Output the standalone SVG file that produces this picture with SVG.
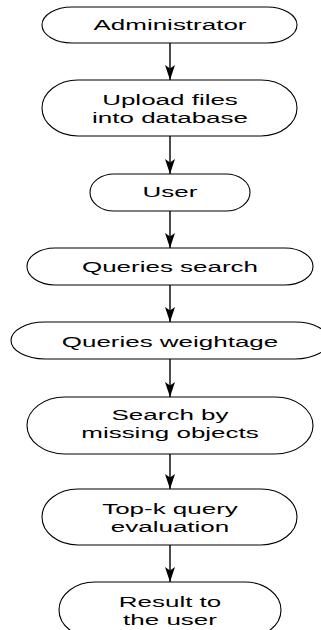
<svg xmlns="http://www.w3.org/2000/svg" width="321" height="630" viewBox="0 0 321 630">
  <style>
    .term { fill: #ffffff; stroke: #000000; stroke-width: 1.1; }
    .lbl { font-family: "Liberation Sans", Arial, sans-serif; font-size: 14.2px; fill: #000000; text-anchor: middle; }
    .edge { stroke: #000000; stroke-width: 1.4; fill: none; marker-end: url(#arrow); }
  </style>
  <defs>
    <marker id="arrow" markerUnits="userSpaceOnUse" markerWidth="16" markerHeight="11" refX="15" refY="5" orient="auto" viewBox="0 0 16 11">
      <path d="M0,0 L15,5 L0,10 L3.5,5 Z" fill="#000000"/>
    </marker>
  </defs>

  <rect width="321" height="630" fill="#ffffff"/>

  <g id="connectors">
    <line class="edge" x1="170" y1="43" x2="170" y2="80"/>
    <line class="edge" x1="170" y1="136" x2="170" y2="174"/>
    <line class="edge" x1="170" y1="211" x2="170" y2="248"/>
    <line class="edge" x1="170" y1="285" x2="170" y2="322"/>
    <line class="edge" x1="170" y1="359" x2="170" y2="397"/>
    <line class="edge" x1="170" y1="454" x2="170" y2="489"/>
    <line class="edge" x1="170" y1="545" x2="170" y2="582"/>
  </g>

  <g id="administrator">
    <rect class="term" x="42" y="7" width="255" height="36" rx="30" ry="18"/>
    <text class="lbl" transform="translate(170,29.5) scale(1.83,1)">Administrator</text>
  </g>

  <g id="upload">
    <rect class="term" x="42" y="80" width="255" height="56" rx="36" ry="28"/>
    <text class="lbl" transform="translate(170,105) scale(1.83,1)">Upload files</text>
    <text class="lbl" transform="translate(170,123) scale(1.83,1)">into database</text>
  </g>

  <g id="user">
    <rect class="term" x="90" y="174" width="160" height="37" rx="24" ry="18.5"/>
    <text class="lbl" transform="translate(170,197) scale(1.83,1)">User</text>
  </g>

  <g id="queries-search">
    <rect class="term" x="27" y="248" width="286" height="37" rx="28" ry="18.5"/>
    <text class="lbl" transform="translate(170,272) scale(1.83,1)">Queries search</text>
  </g>

  <g id="queries-weightage">
    <rect class="term" x="11" y="322" width="318" height="37" rx="34" ry="18.5"/>
    <text class="lbl" transform="translate(170,347) scale(1.83,1)">Queries weightage</text>
  </g>

  <g id="search-missing">
    <rect class="term" x="27" y="397" width="286" height="57" rx="38" ry="28.5"/>
    <text class="lbl" transform="translate(170,420) scale(1.83,1)">Search by</text>
    <text class="lbl" transform="translate(170,438) scale(1.83,1)">missing objects</text>
  </g>

  <g id="topk">
    <rect class="term" x="42" y="489" width="255" height="56" rx="36" ry="28"/>
    <text class="lbl" transform="translate(170,513.5) scale(1.83,1)">Top-k query</text>
    <text class="lbl" transform="translate(170,531.5) scale(1.83,1)">evaluation</text>
  </g>

  <g id="result">
    <rect class="term" x="59" y="582" width="222" height="56" rx="36" ry="28"/>
    <text class="lbl" transform="translate(170,606.5) scale(1.83,1)">Result to</text>
    <text class="lbl" transform="translate(170,625) scale(1.83,1)">the user</text>
  </g>
</svg>
